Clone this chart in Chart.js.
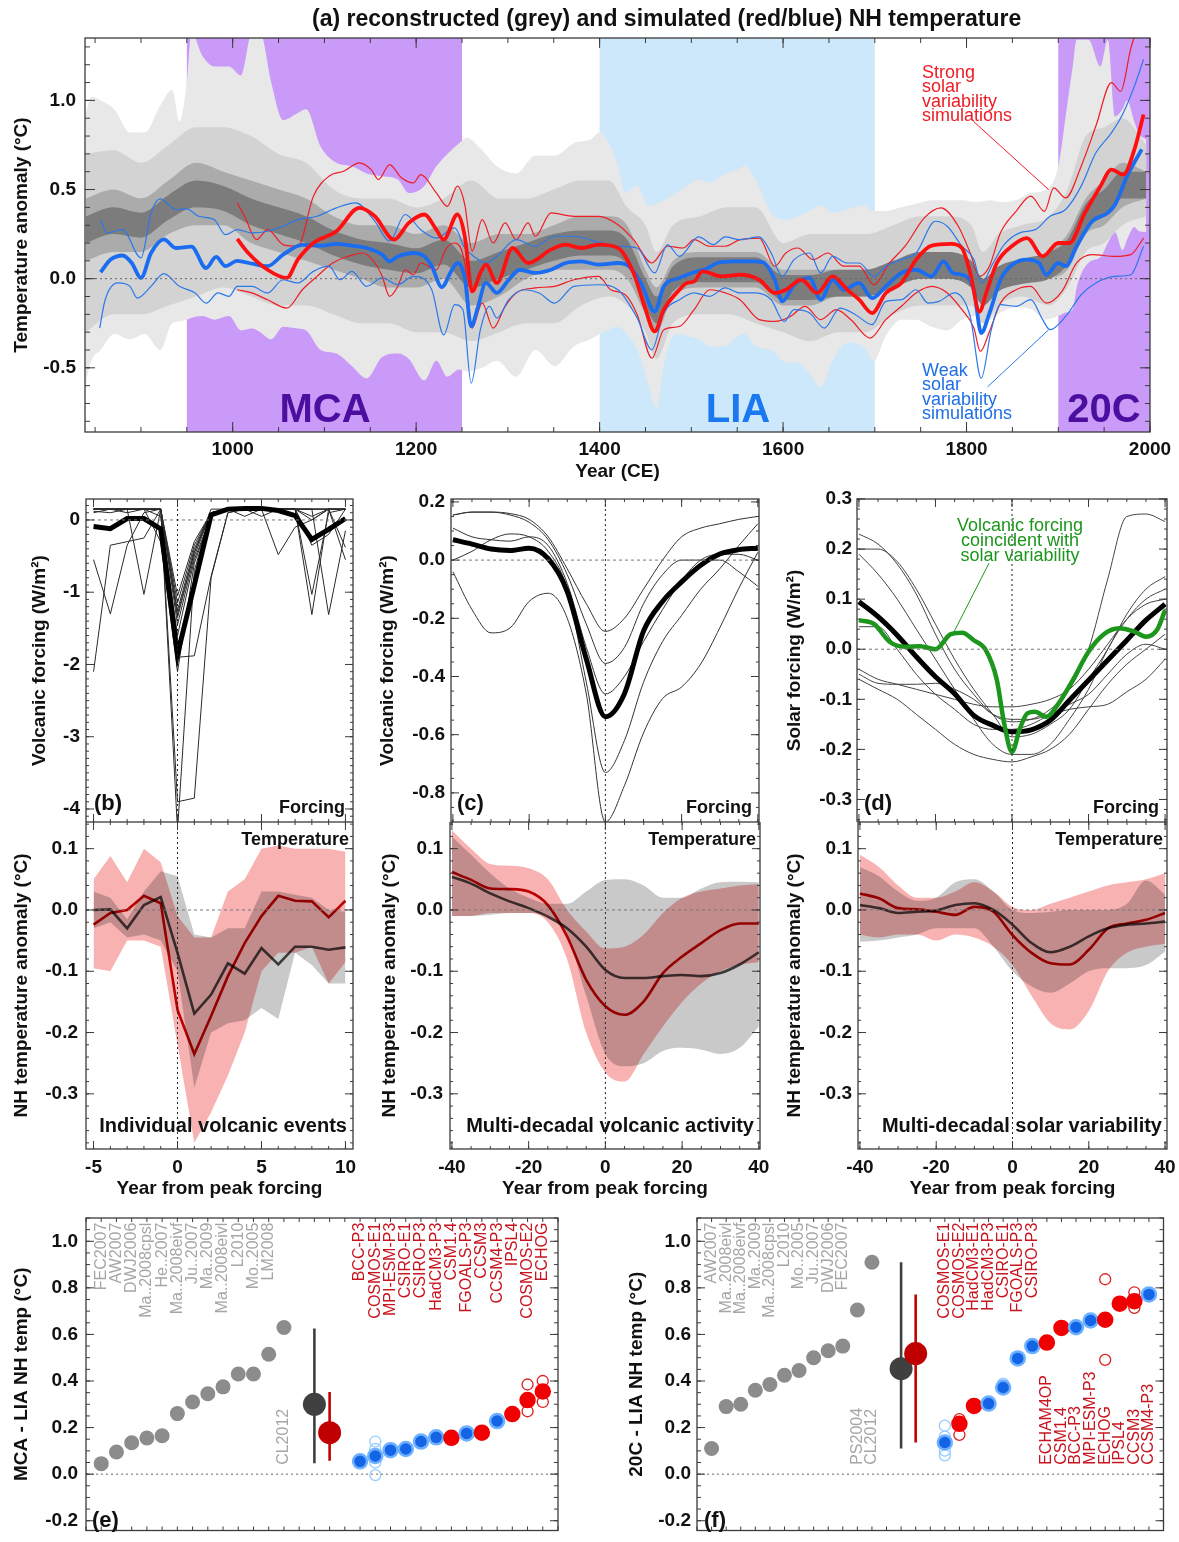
<!DOCTYPE html>
<html>
<head>
<meta charset="utf-8">
<script src="https://cdn.jsdelivr.net/npm/chart.js@4/dist/chart.umd.min.js"></script>
<style>
  body { margin: 0; background: #fff; }
  #page { position: relative; width: 1179px; height: 1542px; overflow: hidden; font-family: "Liberation Sans", Arial, sans-serif; }
  #charts, #texts { position: absolute; left: 0; top: 0; width: 1179px; height: 1542px; }
  canvas { position: absolute; }
  .txt { position: absolute; white-space: nowrap; }
</style>
</head>
<body>
<div id="page">
  <div id="charts"></div>
  <div id="texts"></div>
</div>
<script>
// ---------- (a) NH temperature, 840-2000 ----------
const periodNames = ['MCA', 'LIA', '20C'];
const periodStart = [950, 1400, 1900];
const periodEnd   = [1250, 1700, 2000];

const recOuterYears = [840,846,856,871,888,904,921,934,942,950,955,967,980,996,1009,1021,1030,1042,1055,1071,1080,1096,1113,1130,1146,1163,1180,1192,1209,1222,1234,1247,1255,1272,1288,1309,1330,1351,1372,1390,1400,1408,1420,1428,1441,1453,1462,1470,1483,1495,1508,1520,1537,1549,1558,1570,1587,1603,1616,1629,1641,1654,1670,1687,1699,1712,1729,1745,1762,1779,1795,1812,1825,1837,1854,1870,1887,1900,1908,1916,1920,1933,1946,1954,1962,1970,1975,1983,1987,1996];
const recOuterHi = [0.93,1.02,1.00,0.95,0.82,0.82,0.97,1.06,0.88,1.10,1.38,1.25,1.19,1.19,1.14,1.38,1.38,1.10,0.89,0.93,0.95,0.74,0.65,0.63,0.59,0.575,0.556,0.48,0.52,0.63,0.70,0.76,0.79,0.72,0.63,0.59,0.69,0.69,0.76,0.78,0.82,0.78,0.63,0.48,0.52,0.41,0.42,0.44,0.48,0.52,0.556,0.54,0.59,0.61,0.63,0.556,0.37,0.33,0.35,0.38,0.41,0.37,0.39,0.41,0.38,0.38,0.40,0.42,0.44,0.44,0.44,0.43,0.44,0.43,0.44,0.48,0.50,0.63,0.91,1.20,1.34,1.34,1.19,1.34,0.91,0.95,1.00,0.88,0.82,0.78];
const recOuterLo = [-0.58,-0.46,-0.40,-0.31,-0.34,-0.31,-0.40,-0.25,-0.24,-0.23,-0.22,-0.21,-0.23,-0.21,-0.29,-0.28,-0.30,-0.34,-0.27,-0.28,-0.29,-0.40,-0.42,-0.49,-0.56,-0.44,-0.42,-0.45,-0.57,-0.46,-0.55,-0.51,-0.52,-0.50,-0.46,-0.55,-0.40,-0.49,-0.38,-0.34,-0.31,-0.29,-0.27,-0.30,-0.40,-0.59,-0.73,-0.49,-0.31,-0.32,-0.34,-0.38,-0.38,-0.33,-0.31,-0.38,-0.40,-0.47,-0.47,-0.53,-0.61,-0.46,-0.36,-0.38,-0.46,-0.32,-0.23,-0.23,-0.27,-0.29,-0.23,-0.21,-0.23,-0.19,-0.16,-0.17,-0.23,-0.21,-0.19,-0.17,-0.05,0.09,0.12,0.20,0.26,0.16,0.22,0.29,0.27,0.26];

const recInnerYears = [840,870,900,930,960,990,1020,1050,1080,1110,1140,1170,1200,1230,1260,1290,1320,1350,1380,1410,1430,1450,1462,1480,1510,1540,1570,1600,1630,1660,1690,1720,1750,1780,1805,1818,1835,1860,1890,1910,1930,1950,1970,1996];
const recMidHi = [0.70,0.72,0.65,0.75,0.85,0.85,0.80,0.70,0.65,0.50,0.45,0.45,0.40,0.45,0.55,0.45,0.45,0.50,0.55,0.55,0.40,0.30,0.15,0.30,0.35,0.40,0.40,0.20,0.25,0.25,0.25,0.30,0.35,0.35,0.30,0.15,0.25,0.30,0.35,0.50,0.80,0.85,0.90,0.75];
const recMidLo = [-0.30,-0.20,-0.20,-0.15,-0.10,-0.05,-0.10,-0.15,-0.15,-0.20,-0.25,-0.25,-0.30,-0.30,-0.35,-0.30,-0.25,-0.25,-0.15,-0.10,-0.15,-0.30,-0.45,-0.25,-0.20,-0.20,-0.25,-0.30,-0.35,-0.30,-0.30,-0.20,-0.15,-0.15,-0.15,-0.25,-0.15,-0.10,-0.15,-0.05,0.15,0.20,0.30,0.35];
const recCoreHi = [0.45,0.50,0.45,0.55,0.65,0.60,0.55,0.50,0.45,0.35,0.30,0.30,0.25,0.30,0.20,0.25,0.25,0.30,0.35,0.35,0.30,0.05,-0.05,0.10,0.15,0.15,0.15,0.05,0.05,0.05,0.05,0.10,0.15,0.15,0.10,0.00,0.05,0.10,0.15,0.25,0.45,0.55,0.65,0.60];
const recCoreLo = [0.10,0.15,0.15,0.25,0.30,0.30,0.20,0.15,0.10,0.05,0.00,-0.05,-0.05,0.00,-0.15,-0.10,0.00,0.05,0.05,0.05,0.00,-0.20,-0.30,-0.10,-0.05,-0.05,-0.05,-0.15,-0.15,-0.10,-0.10,-0.05,0.00,0.00,-0.05,-0.15,-0.05,-0.02,0.00,0.05,0.25,0.30,0.40,0.45];
const recDarkHi = [0.35,0.40,0.37,0.47,0.55,0.52,0.45,0.40,0.35,0.27,0.22,0.20,0.17,0.22,0.10,0.15,0.20,0.25,0.27,0.27,0.22,0.00,-0.10,0.07,0.12,0.12,0.12,0.02,0.02,0.05,0.05,0.10,0.15,0.15,0.10,0.00,0.07,0.11,0.15,0.22,0.42,0.50,0.60,0.60];
const recDarkLo = [0.20,0.25,0.23,0.33,0.40,0.38,0.30,0.25,0.20,0.13,0.08,0.05,0.03,0.08,-0.05,0.00,0.05,0.10,0.13,0.13,0.08,-0.15,-0.25,-0.07,-0.02,-0.02,-0.02,-0.12,-0.12,-0.10,-0.10,-0.05,0.00,0.00,-0.05,-0.15,-0.07,-0.03,0.00,0.08,0.28,0.35,0.45,0.45];

const strongMeanYears = [1005,1017,1038,1059,1071,1088,1113,1138,1155,1176,1192,1209,1222,1230,1245,1253,1261,1270,1276,1288,1305,1322,1347,1363,1380,1399,1420,1437,1449,1460,1470,1487,1495,1503,1512,1533,1553,1574,1591,1603,1620,1637,1654,1670,1683,1697,1712,1729,1745,1762,1783,1795,1804,1814,1822,1833,1850,1866,1883,1900,1912,1929,1946,1958,1971,1983,1993];
const strongMean = [0.223,0.144,0.05,0.004,0.107,0.2,0.266,0.397,0.35,0.219,0.313,0.36,0.275,0.219,0.36,0.238,-0.071,0.032,0.079,-0.024,0.172,0.088,0.163,0.191,0.172,0.191,0.172,0.032,-0.155,-0.296,-0.174,-0.062,-0.024,-0.015,0.041,0.013,0.022,-0.006,-0.08,-0.062,-0.006,-0.08,0.013,-0.062,-0.118,-0.193,-0.08,-0.024,0.107,0.185,0.195,0.172,0.032,-0.184,-0.071,0.088,0.185,0.228,0.125,0.2,0.2,0.369,0.519,0.612,0.584,0.725,0.921];
const strongHiYears = [1005,1013,1026,1038,1055,1071,1088,1105,1121,1138,1151,1159,1171,1184,1197,1205,1222,1234,1245,1253,1261,1272,1284,1297,1309,1322,1330,1347,1372,1399,1420,1437,1457,1474,1491,1503,1520,1537,1553,1574,1591,1603,1616,1633,1649,1666,1683,1699,1716,1733,1754,1772,1791,1804,1814,1825,1837,1854,1870,1885,1895,1908,1925,1941,1958,1968,1979,1983];
const strongHi = [0.425,0.35,0.219,0.275,0.191,0.182,0.463,0.575,0.603,0.65,0.612,0.556,0.64,0.566,0.537,0.584,0.481,0.406,0.519,0.416,0.154,0.331,0.2,0.313,0.219,0.313,0.238,0.369,0.35,0.35,0.303,0.219,0.088,0.182,0.172,0.219,0.182,0.182,0.219,0.228,0.07,0.144,0.172,0.107,0.144,0.07,0.07,-0.034,0.088,0.182,0.341,0.397,0.294,0.144,0.013,0.07,0.257,0.378,0.463,0.378,0.509,0.453,0.631,0.856,1.1,1.05,1.29,1.36];
const strongLoYears = [1005,1021,1038,1059,1076,1092,1109,1126,1142,1155,1163,1171,1180,1188,1197,1205,1222,1232,1242,1253,1261,1272,1284,1297,1309,1330,1351,1372,1399,1412,1428,1441,1457,1470,1487,1503,1520,1537,1553,1574,1591,1608,1624,1641,1658,1674,1695,1712,1729,1745,1762,1779,1795,1808,1815,1825,1837,1854,1870,1887,1904,1920,1937,1962,1979,1993];
const strongLo = [-0.062,-0.08,-0.118,-0.165,-0.062,0.013,0.088,0.125,0.144,0.088,0.013,-0.099,-0.043,0.05,0.022,0.088,0.05,0.163,0.2,0.088,-0.277,-0.137,-0.277,-0.155,-0.08,-0.052,-0.043,-0.006,0.013,-0.062,-0.09,-0.202,-0.446,-0.286,-0.268,-0.174,-0.062,-0.08,-0.118,-0.23,-0.24,-0.212,-0.155,-0.23,-0.174,-0.23,-0.333,-0.23,-0.155,-0.08,-0.043,-0.08,-0.174,-0.277,-0.408,-0.296,-0.137,-0.062,-0.043,-0.137,-0.071,0.088,0.135,0.125,0.135,0.228];

const weakMeanYears = [856,867,880,890,900,911,925,938,955,971,982,992,1005,1021,1038,1055,1076,1096,1113,1130,1146,1163,1171,1180,1197,1209,1217,1228,1238,1245,1253,1260,1267,1276,1288,1301,1313,1330,1347,1363,1380,1399,1420,1432,1445,1460,1470,1487,1503,1516,1528,1545,1566,1578,1591,1599,1612,1629,1641,1654,1666,1683,1697,1712,1729,1745,1762,1775,1785,1795,1808,1816,1825,1837,1850,1866,1879,1887,1900,1908,1920,1937,1954,1962,1975,1991];
const weakMean = [0.036,0.107,0.13,0.088,0.004,0.144,0.22,0.172,0.18,0.06,0.122,0.07,0.10,0.084,0.07,0.135,0.19,0.185,0.195,0.185,0.172,0.135,0.097,0.125,0.144,0.125,0.07,-0.047,0.04,0.088,0.004,-0.268,-0.165,-0.024,-0.08,-0.006,0.05,0.032,0.05,0.088,0.097,0.079,0.088,0.07,-0.024,-0.184,-0.043,0.004,0.036,0.054,0.088,0.097,0.097,0.092,-0.006,-0.127,-0.034,0.004,-0.118,-0.006,-0.062,-0.024,-0.109,-0.043,0.032,0.05,0.013,0.097,0.032,0.022,-0.062,-0.305,-0.193,-0.006,0.079,0.107,0.088,0.022,0.088,0.07,0.182,0.322,0.369,0.416,0.575,0.725];
const weakHiYears = [856,863,880,900,911,921,938,950,963,980,992,1005,1021,1038,1055,1071,1092,1113,1134,1155,1171,1188,1205,1222,1242,1253,1263,1276,1288,1309,1330,1351,1372,1399,1420,1441,1460,1474,1487,1508,1524,1537,1553,1574,1587,1599,1612,1629,1641,1654,1670,1683,1699,1712,1729,1745,1766,1779,1795,1808,1816,1829,1841,1858,1875,1891,1908,1925,1941,1958,1971,1983,1993];
const weakHi = [0.331,0.257,0.275,0.116,0.369,0.448,0.388,0.391,0.35,0.331,0.247,0.275,0.257,0.266,0.294,0.331,0.35,0.397,0.425,0.322,0.21,0.36,0.275,0.228,0.285,0.172,0.125,0.088,0.125,0.219,0.182,0.238,0.238,0.204,0.182,0.172,0.032,0.191,0.125,0.234,0.191,0.234,0.219,0.234,0.144,0.013,0.107,0.144,0.032,0.125,0.088,0.088,0.013,0.07,0.107,0.144,0.322,0.294,0.182,0.107,-0.024,0.088,0.191,0.257,0.275,0.35,0.388,0.519,0.706,0.818,0.931,1.08,1.23];
const weakLoYears = [855,861,875,888,896,911,925,942,959,971,984,996,1005,1021,1038,1055,1071,1088,1105,1117,1130,1146,1163,1180,1197,1217,1230,1242,1251,1260,1270,1280,1288,1301,1317,1334,1351,1372,1399,1420,1441,1457,1470,1487,1503,1520,1537,1553,1570,1587,1601,1612,1629,1645,1662,1679,1697,1712,1729,1745,1758,1770,1787,1804,1816,1827,1837,1854,1870,1883,1891,1908,1925,1941,1962,1979,1993];
const weakLo = [-0.277,-0.118,-0.024,-0.043,-0.109,-0.043,0.028,-0.043,-0.08,-0.137,-0.08,-0.099,-0.043,-0.043,-0.08,-0.006,-0.024,0.041,0.07,-0.006,0.041,-0.043,0.004,-0.034,0.013,-0.062,-0.315,-0.146,-0.174,-0.586,-0.286,-0.155,-0.221,-0.118,-0.062,-0.08,-0.137,-0.043,-0.034,-0.062,-0.221,-0.399,-0.193,-0.118,-0.08,-0.099,-0.052,-0.08,-0.08,-0.118,-0.24,-0.174,-0.193,-0.277,-0.165,-0.202,-0.258,-0.127,-0.118,-0.062,-0.137,-0.127,-0.08,-0.212,-0.558,-0.286,-0.146,-0.155,-0.118,-0.23,-0.286,-0.212,-0.09,-0.024,0.013,0.022,0.182];

const aXTicks = [1000, 1200, 1400, 1600, 1800, 2000];
const aYTicks = [-0.5, 0.0, 0.5, 1.0];

// ---------- (b) individual volcanic events ----------
const bYears = [-5,-4,-3,-2,-1,0,1,2,3,4,5,6,7,8,9,10];
const bForcingMean = [-0.09,-0.12,0.02,0.02,-0.125,-1.86,-0.9,0.07,0.15,0.16,0.16,0.13,0.06,-0.27,-0.13,0.02];
const bForcingEvents = [
  [0.15,0.15,0.15,0.15,0.15,-1.05,-0.3,0.1,0.15,0.15,0.15,0.15,0.15,0.15,0.15,0.15],
  [0.12,0.1,0.15,0.15,0.15,-1.15,-0.35,0.1,0.15,0.15,0.15,0.15,0.15,0.05,0.15,0.15],
  [-0.55,-1.3,-0.35,0.1,0.15,-1.25,-0.4,0.1,0.15,0.15,0.15,0.15,0.15,0.15,0.15,0.15],
  [-2.1,-0.35,-0.3,-0.25,0.15,-1.35,-0.45,0.1,0.15,0.15,0.15,0.15,0.15,-0.3,-0.1,0.0],
  [0.1,0.15,0.15,-1.03,0.15,-1.45,-0.5,0.1,0.15,0.15,0.15,0.15,0.15,-1.03,0.1,0.15],
  [0.15,0.15,0.15,0.15,0.05,-1.6,-0.55,0.05,0.15,0.15,0.15,0.15,0.15,-1.31,0.15,0.15],
  [0.15,0.15,0.15,0.15,0.15,-1.9,-1.88,-0.78,0.1,0.15,0.15,0.15,0.15,0.15,-1.31,-0.15],
  [0.15,0.15,0.1,0.15,-0.3,-2.1,-0.6,0.05,0.15,0.05,0.15,0.15,0.15,0.15,0.15,-0.38],
  [0.15,0.15,0.15,0.15,0.15,-3.9,-3.85,-0.8,0.1,0.15,0.15,-0.48,-0.1,0.0,0.15,0.15],
  [0.15,0.15,0.15,0.15,0.15,-4.3,-0.7,0.1,0.15,0.15,0.15,0.15,0.15,0.0,0.15,-0.55],
  [0.15,0.15,0.15,0.15,0.15,-1.3,-0.45,0.15,0.15,0.15,0.05,0.15,0.15,-0.35,-0.2,0.15]
];
const bTempRecon = [0.0,0.001,-0.03,0.008,0.021,-0.07,-0.169,-0.138,-0.087,-0.104,-0.062,-0.089,-0.06,-0.06,-0.065,-0.061];
const bTempSim   = [-0.024,-0.005,0.0,0.023,0.011,-0.163,-0.235,-0.173,-0.108,-0.054,-0.01,0.023,0.015,0.014,-0.012,0.015];
const bReconHi = [0.03,0.02,-0.015,0.03,0.063,0.055,-0.04,-0.045,-0.03,-0.03,0.03,0.03,0.025,0.02,0.0,-0.003];
const bReconLo = [-0.03,-0.02,-0.045,-0.04,-0.05,-0.1,-0.29,-0.2,-0.185,-0.18,-0.16,-0.178,-0.07,-0.09,-0.12,-0.12];
const bSimHi = [0.05,0.088,0.045,0.1,0.078,-0.01,-0.045,-0.045,0.03,0.05,0.1,0.105,0.1,0.1,0.1,0.095];
const bSimLo = [-0.095,-0.1,-0.05,-0.05,-0.06,-0.22,-0.38,-0.33,-0.27,-0.2,-0.1,-0.07,-0.07,-0.06,-0.12,-0.085];

// ---------- (c) multi-decadal volcanic activity ----------
const cYears = [-40,-35,-30,-25,-20,-15,-10,-5,0,5,10,15,20,25,30,35,40];
const cForcingMean = [0.07,0.055,0.038,0.033,0.041,0.005,-0.108,-0.34,-0.538,-0.459,-0.244,-0.142,-0.075,-0.018,0.021,0.036,0.041];
const cForcingEpisodes = [
  [0.155,0.165,0.165,0.16,0.14,0.08,-0.03,-0.15,-0.245,-0.2,-0.1,0.0,0.08,0.11,0.125,0.14,0.15],
  [0.155,0.165,0.165,0.155,0.13,0.07,-0.05,-0.22,-0.355,-0.3,-0.15,-0.05,0.0,0.0,0.0,-0.04,-0.09],
  [0.11,0.08,0.07,0.065,0.08,0.05,-0.08,-0.3,-0.46,-0.4,-0.28,-0.17,-0.07,0.0,0.02,0.02,0.0],
  [0.0,0.03,0.07,0.09,0.08,0.03,-0.1,-0.42,-0.73,-0.62,-0.42,-0.28,-0.19,-0.1,-0.03,0.05,0.125],
  [-0.04,-0.17,-0.25,-0.233,-0.142,-0.114,-0.2,-0.46,-0.9,-0.775,-0.594,-0.476,-0.436,-0.357,-0.233,-0.097,0.027]
];
const cTempRecon = [0.054,0.043,0.027,0.014,0.003,-0.011,-0.03,-0.06,-0.098,-0.111,-0.111,-0.108,-0.106,-0.108,-0.103,-0.089,-0.069];
const cTempSim   = [0.062,0.049,0.035,0.034,0.03,0.008,-0.043,-0.114,-0.157,-0.171,-0.149,-0.103,-0.076,-0.054,-0.033,-0.022,-0.022];
const cReconHi = [0.12,0.09,0.06,0.035,0.02,0.01,0.01,0.03,0.049,0.05,0.04,0.02,0.02,0.035,0.045,0.046,0.045];
const cReconLo = [-0.01,-0.01,-0.008,-0.005,-0.005,-0.01,-0.04,-0.14,-0.235,-0.255,-0.25,-0.23,-0.225,-0.228,-0.235,-0.225,-0.19];
const cSimHi = [0.13,0.1,0.075,0.072,0.068,0.05,0.0,-0.035,-0.063,-0.06,-0.04,-0.005,0.02,0.03,0.035,0.04,0.042];
const cSimLo = [-0.01,-0.01,-0.005,-0.005,-0.005,-0.02,-0.08,-0.2,-0.265,-0.28,-0.235,-0.19,-0.15,-0.12,-0.1,-0.09,-0.085];

// ---------- (d) multi-decadal solar variability ----------
const dYears = [-40,-35,-30,-25,-20,-15,-10,-5,0,5,10,15,20,25,30,35,40];
const dForcingMean = [0.095,0.065,0.028,-0.015,-0.055,-0.089,-0.132,-0.152,-0.165,-0.161,-0.142,-0.102,-0.062,-0.022,0.018,0.058,0.09];
const dForcingEpisodes = [
  [0.23,0.21,0.17,0.11,0.03,-0.04,-0.09,-0.13,-0.145,-0.14,-0.12,-0.08,0.0,0.14,0.265,0.27,0.255],
  [0.2,0.2,0.175,0.12,0.05,-0.02,-0.08,-0.13,-0.175,-0.17,-0.15,-0.12,-0.06,0.0,0.07,0.12,0.145],
  [0.19,0.15,0.1,0.04,-0.02,-0.08,-0.14,-0.19,-0.21,-0.21,-0.19,-0.14,-0.08,0.0,0.06,0.1,0.12],
  [-0.04,-0.06,-0.07,-0.08,-0.09,-0.1,-0.11,-0.115,-0.115,-0.11,-0.1,-0.08,-0.04,0.01,0.06,0.09,0.1],
  [-0.05,-0.068,-0.07,-0.07,-0.068,-0.08,-0.1,-0.13,-0.14,-0.14,-0.13,-0.12,-0.115,-0.11,-0.085,-0.06,-0.02],
  [-0.06,-0.08,-0.1,-0.13,-0.16,-0.19,-0.21,-0.22,-0.225,-0.215,-0.2,-0.17,-0.12,-0.07,-0.03,0.0,0.03],
  [0.045,0.045,0.0,-0.05,-0.09,-0.12,-0.15,-0.16,-0.16,-0.15,-0.13,-0.11,-0.09,-0.05,-0.01,0.01,0.0]
];
const dVolcYears = [-40,-36,-32,-28,-24,-20,-16,-13,-10,-7,-4,-2,0,2,4,6,9,12,16,20,24,28,32,35,38,40];
const dVolcForcing = [0.058,0.05,0.015,0.005,0.006,0.0,0.03,0.033,0.018,0.0,-0.06,-0.15,-0.205,-0.16,-0.128,-0.125,-0.135,-0.11,-0.06,-0.005,0.03,0.042,0.035,0.025,0.04,0.078];
const dTempRecon = [0.008,0.003,-0.005,-0.003,-0.001,0.008,0.011,0.0,-0.024,-0.054,-0.069,-0.06,-0.043,-0.03,-0.024,-0.022,-0.019];
const dTempSim   = [0.027,0.019,0.003,0.001,-0.003,-0.008,0.005,-0.003,-0.041,-0.07,-0.087,-0.089,-0.065,-0.03,-0.022,-0.016,-0.005];
const dReconHi = [0.07,0.055,0.03,0.015,0.02,0.045,0.05,0.03,0.0,-0.005,-0.003,0.0,0.0,0.0,0.01,0.048,0.025];
const dReconLo = [-0.052,-0.05,-0.045,-0.04,-0.03,-0.03,-0.03,-0.06,-0.1,-0.125,-0.135,-0.12,-0.1,-0.095,-0.095,-0.09,-0.068];
const dSimHi = [0.09,0.07,0.04,0.02,0.02,0.03,0.045,0.03,0.005,0.0,0.01,0.02,0.03,0.04,0.045,0.05,0.06];
const dSimLo = [-0.04,-0.045,-0.04,-0.04,-0.05,-0.04,-0.045,-0.06,-0.09,-0.14,-0.185,-0.195,-0.165,-0.1,-0.07,-0.06,-0.055];

const bXTicks = [-5, 0, 5, 10];
const cdXTicks = [-40, -20, 0, 20, 40];
const tempYTicks = [-0.3, -0.2, -0.1, 0.0, 0.1];
const bForcingYTicks = [-4, -3, -2, -1, 0];
const cForcingYTicks = [-0.8, -0.6, -0.4, -0.2, 0.0, 0.2];
const dForcingYTicks = [-0.3, -0.2, -0.1, 0.0, 0.1, 0.2, 0.3];

// ---------- (e) MCA - LIA and (f) 20C - LIA ----------
const eReconNames = ['FEC2007','AW2007','DWJ2006','Ma..2008cpsl','He..2007','Ma..2008eivf','Ju..2007','Ma..2009','Ma..2008eivl','L2010','Mo..2005','LM2008','CL2012'];
const eRecon = [0.045,0.095,0.135,0.155,0.165,0.26,0.31,0.345,0.375,0.43,0.43,0.515,0.63];
const eReconMean = 0.30, eReconRange = [0.047, 0.626];
const eModelMean = 0.178, eModelRange = [0.057, 0.353];
const eModelNames = ['BCC-P3','COSMOS-E1','MPI-ESM-P3','CSIRO-E1','CSIRO-P3','HadCM3-P3','CSM1.4','FGOALS-P3','CCSM3','CCSM4-P3','IPSL4','COSMOS-E2','ECHOG'];
const eModel = [0.055,0.078,0.103,0.108,0.14,0.158,0.156,0.175,0.178,0.228,0.258,0.318,0.355];
const eModelSolar = ['weak','weak','weak','weak','weak','weak','strong','weak','strong','weak','strong','strong','strong'];
const eMemberOf = [1,1,1,1,11,11,12,12];
const eMembers  = [0.14,0.108,0.05,-0.004,0.385,0.27,0.40,0.31];

const fReconNames = ['AW2007','Ma..2008eivl','Ma..2008eivf','Ma..2009','Ma..2008cpsl','L2010','Mo..2005','Ju..2007','DWJ2006','FEC2007','PS2004','CL2012'];
const fRecon = [0.11,0.29,0.30,0.36,0.385,0.425,0.445,0.50,0.53,0.55,0.705,0.91];
const fReconMean = 0.453, fReconRange = [0.11, 0.91];
const fModelMean = 0.518, fModelRange = [0.136, 0.772];
const fModelNames = ['COSMOS-E1','COSMOS-E2','HadCM3-E1','HadCM3-P3','CSIRO-E1','FGOALS-P3','CSIRO-P3','ECHAM4OP','CSM1.4','BCC-P3','MPI-ESM-P3','ECHOG','IPSL4','CCSM3','CCSM4-P3'];
const fModel = [0.136,0.216,0.293,0.303,0.372,0.497,0.55,0.565,0.628,0.631,0.66,0.663,0.732,0.743,0.772];
const fModelSolar = ['weak','strong','strong','weak','weak','weak','weak','strong','strong','weak','weak','strong','strong','strong','weak'];
const fMemberOf = [0,0,0,0,1,1,4,11,11,13,13];
const fMembers  = [0.208,0.161,0.101,0.081,0.236,0.169,0.389,0.837,0.491,0.781,0.714];
const diffYTicks = [-0.2, 0.0, 0.2, 0.4, 0.6, 0.8, 1.0];

// ---------- helpers ----------
Chart.defaults.font.family = "'Liberation Sans', Arial, sans-serif";
Chart.defaults.color = '#111';

const pts = (xs, ys) => xs.map((x, i) => ({x, y: ys[i]}));
const steps = (min, max, step) => {
  const out = [];
  for (let i = Math.ceil(min / step - 1e-9); i * step <= max + 1e-9; i++) out.push(i * step);
  return out;
};
const f1 = v => v.toFixed(1);

function line(xs, ys, color, width, smooth) {
  return {data: pts(xs, ys), borderColor: color, borderWidth: width, pointRadius: 0, fill: false,
          cubicInterpolationMode: smooth ? 'monotone' : 'default', tension: 0};
}
function band(xs, hi, lo, color, smooth) {
  return [
    {data: pts(xs, hi), borderWidth: 0, borderColor: color, pointRadius: 0, fill: false, cubicInterpolationMode: smooth ? 'monotone' : 'default'},
    {data: pts(xs, lo), borderWidth: 0, borderColor: color, pointRadius: 0, fill: '-1', backgroundColor: color, cubicInterpolationMode: smooth ? 'monotone' : 'default'}
  ];
}

function axis(o) {
  return {
    type: 'linear', min: o.min, max: o.max, display: o.display !== false,
    grid: {display: false, drawTicks: false}, border: {display: false},
    afterBuildTicks: s => { s.ticks = (o.ticks || []).map(v => ({value: v})); },
    afterFit: s => {
      if (o.horizontal) s.height = o.size; else s.width = o.size;
      s.paddingTop = s.paddingBottom = s.paddingLeft = s.paddingRight = 0;
    },
    ticks: {autoSkip: false, maxRotation: 0, padding: o.labPad || 0, color: '#111',
            font: {size: 19, weight: 'bold'}, callback: o.fmt || (v => String(v))},
    title: {display: !!o.title, text: o.title || '', color: '#111', font: {size: 19, weight: 'bold'},
            padding: o.horizontal ? {top: 0, bottom: o.titlePad || 0} : {top: o.titlePad || 0, bottom: 0}}
  };
}

// decorations: period shading, blend mode, reference lines, leaders, names, frame with inward ticks
function decor(o) {
  return {
    id: 'decor',
    beforeDatasetsDraw(chart) {
      const {ctx, chartArea: a, scales: {x}} = chart;
      (o.periods || []).forEach(p => {
        const x1 = Math.max(a.left, x.getPixelForValue(p.from));
        const x2 = Math.min(a.right, x.getPixelForValue(p.to));
        ctx.fillStyle = p.color;
        ctx.fillRect(x1, a.top, x2 - x1, a.bottom - a.top);
      });
      if (o.blend) ctx.globalCompositeOperation = o.blend;
    },
    afterDatasetsDraw(chart) {
      const {ctx, chartArea: a, scales: {x, y}} = chart;
      ctx.globalCompositeOperation = 'source-over';
      ctx.save();
      const seg = (x1, y1, x2, y2) => { ctx.beginPath(); ctx.moveTo(x1, y1); ctx.lineTo(x2, y2); ctx.stroke(); };
      ctx.lineWidth = 1;
      (o.hLines || []).forEach(h => {
        ctx.strokeStyle = h.color; ctx.setLineDash(h.dash);
        const p = y.getPixelForValue(h.v); seg(a.left, p, a.right, p);
      });
      (o.vLines || []).forEach(h => {
        ctx.strokeStyle = h.color; ctx.setLineDash(h.dash);
        const p = x.getPixelForValue(h.v); seg(p, a.top, p, a.bottom);
      });
      ctx.setLineDash([]);
      (o.leaders || []).forEach(l => {
        ctx.strokeStyle = l.color; ctx.lineWidth = l.width || 1;
        seg(x.getPixelForValue(l.x1), y.getPixelForValue(l.y1), x.getPixelForValue(l.x2), y.getPixelForValue(l.y2));
      });
      if (o.names) {
        ctx.font = '16px "Liberation Sans", Arial, sans-serif';
        ctx.textBaseline = 'middle';
        o.names.forEach(n => {
          ctx.save();
          ctx.translate(x.getPixelForValue(n.x), y.getPixelForValue(n.top ? o.namesTop : o.namesBottom));
          ctx.rotate(-Math.PI / 2);
          ctx.textAlign = n.top ? 'right' : 'left';
          ctx.fillStyle = n.color;
          ctx.fillText(n.text, 0, 0);
          ctx.restore();
        });
      }
      const t = o.ticks;
      ctx.strokeStyle = '#3a3a3a'; ctx.lineWidth = 1;
      const xt = (vals, len) => vals.forEach(v => { const p = x.getPixelForValue(v); seg(p, a.bottom, p, a.bottom - len); seg(p, a.top, p, a.top + len); });
      const yt = (vals, len) => vals.forEach(v => { const p = y.getPixelForValue(v); seg(a.left, p, a.left + len, p); seg(a.right, p, a.right - len, p); });
      xt(steps(x.min, x.max, t.xMinor), t.minLen); xt(t.xMajor, t.majLen);
      yt(steps(y.min, y.max, t.yMinor), t.minLen); yt(t.yMajor, t.majLen);
      ctx.lineWidth = 1.3;
      ctx.strokeRect(a.left, a.top, a.right - a.left, a.bottom - a.top);
      ctx.restore();
    }
  };
}

function makeChart(box, pad, datasets, scales, deco) {
  // Chart.js paints the first dataset last; give later datasets a lower order so they end up on top
  datasets.forEach((d, i) => { d.order = datasets.length - i; });
  const cv = document.createElement('canvas');
  cv.width = box.w; cv.height = box.h;
  Object.assign(cv.style, {left: box.x + 'px', top: box.y + 'px', width: box.w + 'px', height: box.h + 'px'});
  document.getElementById('charts').appendChild(cv);
  return new Chart(cv, {
    type: 'line',
    data: {datasets},
    options: {
      responsive: false, animation: false, devicePixelRatio: 1,
      layout: {padding: Object.assign({left: 0, right: 0, top: 0, bottom: 0}, pad)},
      plugins: {legend: {display: false}, tooltip: {enabled: false}},
      scales
    },
    plugins: [decor(deco)]
  });
}

// ---------- panel (a) ----------
const periodColors = ['#c99af8', '#cce8fa', '#c99af8'];
makeChart({x: 0, y: 30, w: 1175, h: 462}, {top: 8, right: 25}, [
  ...band(recOuterYears, recOuterHi, recOuterLo, '#e8e8e8', true),
  ...band(recInnerYears, recMidHi, recMidLo, '#d3d3d3', true),
  ...band(recInnerYears, recCoreHi, recCoreLo, '#ababab', true),
  ...band(recInnerYears, recDarkHi, recDarkLo, '#7c7c7c', true),
  line(strongHiYears, strongHi, '#ee1c24', 1.2, true),
  line(strongLoYears, strongLo, '#ee1c24', 1.2, true),
  line(weakHiYears, weakHi, '#2b78ea', 1.2, true),
  line(weakLoYears, weakLo, '#2b78ea', 1.2, true),
  line(weakMeanYears, weakMean, '#1a6cf0', 3.8, true),
  line(strongMeanYears, strongMean, '#ff1010', 3.8, true)
], {
  x: axis({min: 839, max: 2000, ticks: aXTicks, horizontal: true, size: 60, labPad: 6.6, title: 'Year (CE)', titlePad: 8.6}),
  y: axis({min: -0.86, max: 1.35, ticks: aYTicks, fmt: f1, size: 85, labPad: 9, title: 'Temperature anomaly (°C)', titlePad: 10.6})
}, {
  periods: periodNames.map((n, i) => ({from: periodStart[i], to: periodEnd[i], color: periodColors[i]})),
  hLines: [{v: 0, color: '#666', dash: [2, 3]}],
  leaders: [
    {x1: 1807.6, y1: 0.882, x2: 1889.4, y2: 0.5, color: '#ee1c24'},
    {x1: 1822.9, y1: -0.607, x2: 1889.4, y2: -0.287, color: '#2b78ea'}
  ],
  ticks: {xMajor: aXTicks, xMinor: 50, yMajor: aYTicks, yMinor: 0.1, majLen: 10, minLen: 5}
});

// ---------- panels (b)-(d) ----------
const tempTitle = 'NH temperature anomaly (°C)';
const zeroLines = {hLines: [{v: 0, color: '#777', dash: [3, 3]}], vLines: [{v: 0, color: '#222', dash: [2, 3]}]};

function forcingPanel(box, pad, yw, yTitle, titlePad, labPad, xr, yr, yTicks, yMinor, datasets, extra) {
  makeChart(box, pad, datasets, {
    x: axis({min: xr[0], max: xr[1], ticks: [], display: false}),
    y: axis({min: yr[0], max: yr[1], ticks: yTicks, fmt: yr[2], size: yw, labPad, title: yTitle, titlePad})
  }, Object.assign({ticks: {xMajor: xr[2], xMinor: xr[3], yMajor: yTicks, yMinor, majLen: 8, minLen: 3}}, zeroLines, extra || {}));
}
function tempPanel(box, pad, yw, titlePad, labPad, xr, years, recon, sim, rHi, rLo, sHi, sLo, smooth) {
  makeChart(box, pad, [
    ...band(years, rHi, rLo, '#c9c9c9', smooth),
    ...band(years, sHi, sLo, '#f8b2b2', smooth),
    line(years, recon, '#4a4a4a', 2.6, smooth),
    line(years, sim, '#c00000', 2.6, smooth)
  ], {
    x: axis({min: xr[0], max: xr[1], ticks: xr[2], horizontal: true, size: 63, labPad: 7.6, title: 'Year from peak forcing', titlePad: 11.6}),
    y: axis({min: -0.39, max: 0.1435, ticks: tempYTicks, fmt: f1, size: yw, labPad, title: tempTitle, titlePad})
  }, Object.assign({blend: 'multiply', ticks: {xMajor: xr[2], xMinor: xr[3], yMajor: tempYTicks, yMinor: 0.02, majLen: 8, minLen: 3}}, zeroLines));
}

const bX = [-5.45, 10.45, bXTicks, 1];
const cX = [-40.5, 40.3, cdXTicks, 5];
const dX = [-40.5, 40.5, cdXTicks, 5];

forcingPanel({x: 0, y: 490, w: 370, h: 332}, {top: 9, right: 17}, 86, 'Volcanic forcing (W/m²)', 28.6, 6, bX,
  [-4.18, 0.29, v => String(v)], bForcingYTicks, 0.1, [
    ...bForcingEvents.map(ev => line(bYears, ev, '#2a2a2a', 1, false)),
    line(bYears, bForcingMean, '#000', 5, false)
  ]);
tempPanel({x: 0, y: 822, w: 370, h: 390}, {top: 0, right: 17}, 86, 10.6, 8, bX, bYears,
  bTempRecon, bTempSim, bReconHi, bReconLo, bSimHi, bSimLo, false);

forcingPanel({x: 370, y: 490, w: 405, h: 332}, {top: 9, right: 16}, 81, 'Volcanic forcing (W/m²)', 6.6, 6, cX,
  [-0.9, 0.21, f1], cForcingYTicks, 0.05, [
    ...cForcingEpisodes.map(ev => line(cYears, ev, '#333', 1, true)),
    line(cYears, cForcingMean, '#000', 5, true)
  ]);
tempPanel({x: 370, y: 822, w: 405, h: 390}, {top: 0, right: 15}, 80, 8.6, 7, cX, cYears,
  cTempRecon, cTempSim, cReconHi, cReconLo, cSimHi, cSimLo, true);

forcingPanel({x: 775, y: 490, w: 404, h: 332}, {top: 9, right: 12}, 82, 'Solar forcing (W/m²)', 8.6, 5, dX,
  [-0.345, 0.3, f1], dForcingYTicks, 0.02, [
    ...dForcingEpisodes.map(ev => line(dYears, ev, '#444', 1, true)),
    line(dYears, dForcingMean, '#000', 5, true),
    line(dVolcYears, dVolcForcing, '#1c961c', 4.5, true)
  ], {leaders: [{x1: -6, y1: 0.172, x2: -15.2, y2: 0.034, color: '#1c961c'}]});
tempPanel({x: 775, y: 822, w: 404, h: 390}, {top: 0, right: 12}, 83, 8.6, 6, dX, dYears,
  dTempRecon, dTempSim, dReconHi, dReconLo, dSimHi, dSimLo, true);

// ---------- panels (e), (f) ----------
function dots(xs, ys, fill, border, r, bw) {
  return {data: pts(xs, ys), showLine: false, pointRadius: r, pointBackgroundColor: fill,
          pointBorderColor: border, pointBorderWidth: bw, borderColor: border};
}
function diffPanel(box, pad, yw, yTitle, titlePad, labPad, xMax, recon, reconNames, reconTop, rMean, rRange,
                   mMean, mRange, models, modelNames, modelTop, solar, memberOf, members) {
  const n = recon.length;
  const rx = recon.map((_, i) => i + 1);
  const mx = models.map((_, i) => n + 5 + i);
  const fillOf = s => s === 'weak' ? '#1464e6' : '#f00000';
  const ringOf = s => s === 'weak' ? '#6cb0ff' : '#f00000';
  const openOf = s => s === 'weak' ? '#96ccff' : '#dd2020';
  const names = [
    ...reconNames.map((t, i) => ({x: rx[i], text: t, color: '#a6a6a6', top: i < reconTop})),
    ...modelNames.map((t, i) => ({x: mx[i], text: t, color: '#c8141e', top: i < modelTop}))
  ];
  makeChart(box, pad, [
    {data: [{x: n + 2, y: rRange[0]}, {x: n + 2, y: rRange[1]}], borderColor: '#404040', borderWidth: 2.6, pointRadius: 0},
    {data: [{x: n + 3, y: mRange[0]}, {x: n + 3, y: mRange[1]}], borderColor: '#c00000', borderWidth: 2.6, pointRadius: 0},
    dots([n + 2], [rMean], '#404040', '#404040', 11.5, 0),
    dots([n + 3], [mMean], '#c00000', '#c00000', 11.5, 0),
    dots(rx, recon, '#8c8c8c', '#8c8c8c', 7.5, 0),
    dots(memberOf.map(k => mx[k]), members, 'rgba(0,0,0,0)', memberOf.map(k => openOf(solar[k])), 5.5, 1.3),
    dots(mx, models, solar.map(fillOf), solar.map(ringOf), 7, 2.5)
  ], {
    x: axis({min: 0, max: xMax, ticks: [], display: false}),
    y: axis({min: -0.242, max: 1.1, ticks: diffYTicks, fmt: f1, size: yw, labPad, title: yTitle, titlePad})
  }, {
    hLines: [{v: 0, color: '#666', dash: [2, 3]}],
    names, namesTop: 1.08, namesBottom: 0.04,
    ticks: {xMajor: [], xMinor: 1, yMajor: diffYTicks, yMinor: 0.05, majLen: 8, minLen: 4}
  });
}

diffPanel({x: 0, y: 1205, w: 570, h: 337}, {top: 13, right: 12, bottom: 2}, 86, 'MCA - LIA NH temp (°C)', 10.6, 8, 31,
  eRecon, eReconNames, 12, eReconMean, eReconRange, eModelMean, eModelRange, eModel, eModelNames, 13, eModelSolar, eMemberOf, eMembers);
diffPanel({x: 590, y: 1205, w: 585, h: 337}, {top: 13, right: 7, bottom: 2}, 107, '20C - LIA NH temp (°C)', 35.6, 6, 32,
  fRecon, fReconNames, 10, fReconMean, fReconRange, fModelMean, fModelRange, fModel, fModelNames, 7, fModelSolar, fMemberOf, fMembers);

// ---------- text ----------
function addText(html, x, cy, opt) {
  const o = Object.assign({size: 18, weight: 'bold', color: '#111', align: 'left', lh: 0}, opt);
  const lh = o.lh || Math.round(o.size * 1.2);
  const lines = html.split('<br>').length;
  const d = document.createElement('div');
  d.className = 'txt';
  d.innerHTML = html;
  Object.assign(d.style, {fontSize: o.size + 'px', fontWeight: o.weight, color: o.color, lineHeight: lh + 'px',
                          top: (cy - lines * lh / 2) + 'px', textAlign: o.align});
  if (o.align === 'left') d.style.left = x + 'px';
  else if (o.align === 'right') d.style.right = (1179 - x) + 'px';
  else { d.style.left = (x - 300) + 'px'; d.style.width = '600px'; }
  document.getElementById('texts').appendChild(d);
}

addText('(a) reconstructed (grey) and simulated (red/blue) NH temperature', 612, 18, {size: 23, align: 'center'});
addText('Strong<br>solar<br>variability<br>simulations', 922, 93.6, {size: 18, weight: 'normal', color: '#ee1c24', lh: 14.4});
addText('Weak<br>solar<br>variability<br>simulations', 922, 391.6, {size: 18, weight: 'normal', color: '#1f6fe6', lh: 14.4});
const periodTextColors = ['#4b0e9e', '#1a78f0', '#4b0e9e'];
const periodTextX = [325, 738, 1104];
periodNames.forEach((n, i) => addText(n, periodTextX[i], 408, {size: 40, color: periodTextColors[i], align: 'center'}));

[['(b)', 94], ['(c)', 457], ['(d)', 864]].forEach(([t, x]) => addText(t, x, 803, {size: 22}));
[345, 752, 1159].forEach(x => addText('Forcing', x, 807, {size: 18, align: 'right'}));
[349, 756, 1163].forEach(x => addText('Temperature', x, 839, {size: 18, align: 'right'}));
addText('Individual volcanic events', 347, 1125, {size: 20, align: 'right'});
addText('Multi-decadal volcanic activity', 754, 1125, {size: 20, align: 'right'});
addText('Multi-decadal solar variability', 1162, 1125, {size: 20, align: 'right'});
addText('Volcanic forcing<br>coincident with<br>solar variability', 1020, 540, {size: 18, weight: 'normal', color: '#1c961c', align: 'center', lh: 15});
addText('(e)', 92, 1520, {size: 22});
addText('(f)', 704, 1520, {size: 22});
</script>
</body>
</html>
